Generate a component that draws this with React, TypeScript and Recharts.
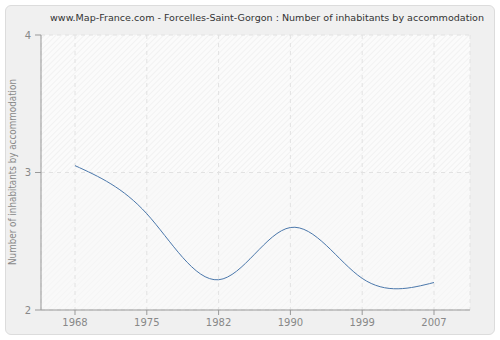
import React from 'react';
import { LineChart, Line, XAxis, YAxis, CartesianGrid, Label } from 'recharts';

const years = ['1968', '1975', '1982', '1990', '1999', '2007'];
const values = [3.05, 2.7, 2.22, 2.6, 2.23, 2.2];
const yTicks = [2, 3, 4];
const title = 'www.Map-France.com - Forcelles-Saint-Gorgon : Number of inhabitants by accommodation';
const yLabel = 'Number of inhabitants by accommodation';

const data = years.map((y, i) => ({ year: y, value: values[i] }));

const FONT = '"DejaVu Sans", Verdana, sans-serif';

export default function App() {
  return (
    <div style={{ position: 'absolute', left: 0, top: 0, width: 500, height: 340, background: '#fff' }}>
      <div
        style={{
          position: 'absolute',
          left: 5,
          top: 5,
          width: 488,
          height: 328,
          background: '#f0f0f0',
          border: '1px solid #dcdcdc',
          borderRadius: 6,
        }}
      />
      <div style={{ position: 'absolute', left: 0, top: 0 }}>
        <LineChart width={500} height={340} data={data} margin={{ top: 35, right: 30, bottom: 0, left: 0 }}>
          <defs>
            <pattern id="hatchA" width="4" height="4" patternUnits="userSpaceOnUse" patternTransform="rotate(45)">
              <rect width="4" height="4" fill="#fbfbfb" />
              <line x1="0" y1="0" x2="0" y2="4" stroke="#eaeaea" strokeWidth="1" />
            </pattern>
            <pattern id="hatchB" width="4" height="4" patternUnits="userSpaceOnUse" patternTransform="rotate(45)">
              <rect width="4" height="4" fill="#f9f9f9" />
              <line x1="0" y1="0" x2="0" y2="4" stroke="#f2f2f2" strokeWidth="1" />
            </pattern>
          </defs>
          <text
            x={267}
            y={21}
            textAnchor="middle"
            fontFamily={FONT}
            fontSize={9.5}
            fill="#333"
            textLength={434}
            lengthAdjust="spacingAndGlyphs"
          >
            {title}
          </text>
          <CartesianGrid
            stroke="#e2e2e2"
            strokeDasharray="4 4"
            horizontalFill={['url(#hatchA)', 'url(#hatchB)']}
            fillOpacity={1}
          />
          <XAxis
            dataKey="year"
            height={30}
            padding={{ left: 34, right: 36 }}
            tickLine={{ stroke: '#999' }}
            axisLine={{ stroke: '#999' }}
            tickSize={5}
            tick={{ fill: '#888', fontSize: 10, fontFamily: FONT }}
            tickMargin={4}
            interval={0}
          />
          <YAxis
            domain={[2, 4]}
            ticks={yTicks}
            width={41}
            tickLine={{ stroke: '#999' }}
            axisLine={{ stroke: '#999' }}
            tickSize={6}
            tick={{ fill: '#888', fontSize: 10, fontFamily: FONT }}
            tickMargin={4}
          >
            <Label
              content={() => (
                <text
                  x={16}
                  y={172}
                  transform="rotate(-90 16 172)"
                  textAnchor="middle"
                  fontFamily={FONT}
                  fontSize={10}
                  fill="#888"
                  textLength={186}
                  lengthAdjust="spacingAndGlyphs"
                >
                  {yLabel}
                </text>
              )}
            />
          </YAxis>
          <Line
            type="natural"
            dataKey="value"
            stroke="#4a77ab"
            strokeWidth={1}
            dot={false}
            isAnimationActive={false}
          />
        </LineChart>
      </div>
    </div>
  );
}
